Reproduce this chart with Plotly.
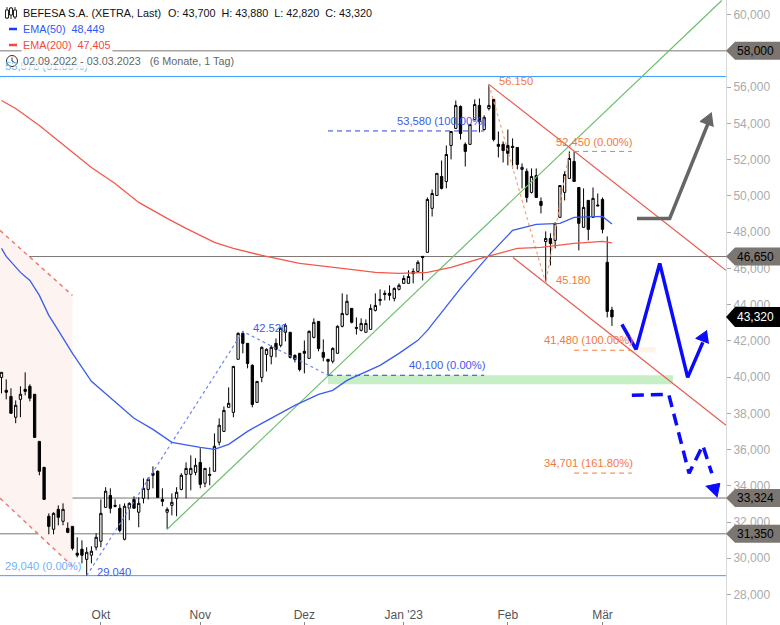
import plotly.graph_objects as go

# daily candles, 02.09.2022 - 03.03.2023 (index 0 = first trading day)
open_ = [39980, 39270, 38930, 37780, 38770, 39320, 39490, 39050, 36450, 35020,
         32320, 31600, 32700, 32040, 31650, 31760, 30280, 30500, 29940, 30170,
         30610, 30940, 32810, 33470, 32920, 32760, 31050, 32760, 33250, 32540,
         33310, 33800, 34690, 34800, 33250, 32540, 32920, 33310, 33800, 34630,
         34630, 34740, 35290, 34140, 34630, 34800, 36400, 37000, 38330, 38050,
         40980, 42410, 41860, 40650, 38600, 39980, 41250, 41140, 41860, 41750,
         42470, 42470, 41200, 41310, 41420, 41030, 42190, 43070, 41360, 40980,
         40870, 41310, 42800, 43460, 43790, 42740, 42580, 42470, 42630, 43680,
         44290, 44620, 44620, 44340, 44840, 45170, 45170, 45720, 45830, 46660,
         46880, 49310, 50020, 51070, 50790, 52780, 53720, 54930, 52840, 52840,
         54210, 54990, 53660, 54820, 55320, 52840, 52840, 52780, 52730, 52670,
         51460, 51350, 50190, 51120, 49690, 47480, 47650, 47540, 48810, 50190,
         50960, 51900, 50460, 48260, 49750, 48810, 49490, 49800, 46330, 43700]
high = [40260, 39870, 39380, 38710, 39490, 40260, 39600, 39050, 36450, 35020,
        32480, 32540, 32920, 33030, 31980, 31760, 31160, 30990, 30610, 30660,
        31380, 33250, 33920, 33860, 33250, 32980, 33030, 33090, 33420, 33360,
        34410, 34470, 35070, 34850, 33860, 32810, 33580, 33920, 34690, 35290,
        35680, 35520, 36070, 34960, 35020, 36890, 37720, 38380, 39430, 40590,
        42470, 42520, 41860, 40700, 39760, 41690, 41580, 41750, 42130, 42740,
        42960, 42470, 41250, 41310, 42020, 42580, 43240, 43070, 42080, 40980,
        41640, 42850, 44620, 44560, 43790, 43290, 43240, 43180, 44010, 44620,
        44840, 44780, 45060, 44950, 45170, 45610, 45890, 46000, 46440, 46660,
        49910, 50350, 51240, 51950, 52780, 53550, 55260, 54990, 52950, 53940,
        55320, 55370, 54440, 56150, 55320, 53550, 53000, 53660, 53170, 52670,
        51790, 51510, 51510, 51510, 49910, 48040, 47930, 48530, 50570, 51350,
        52450, 52450, 50460, 50410, 49750, 50460, 50130, 49910, 47760, 43880]
low = [39100, 38770, 38000, 37450, 37780, 38990, 38660, 36670, 34580, 33250,
       31320, 31320, 31820, 31820, 31380, 30440, 30050, 29720, 29040, 29720,
       30440, 30610, 32810, 32480, 32810, 31430, 30990, 32100, 32760, 31710,
       33030, 33250, 33860, 33360, 32870, 31600, 32370, 32320, 33750, 33310,
       33750, 34580, 33860, 33920, 34030, 34800, 36230, 37000, 38330, 37780,
       40980, 41310, 40480, 38330, 38600, 39710, 40310, 40700, 41090, 41640,
       41970, 41030, 40810, 40310, 40200, 41030, 42130, 41420, 40870, 40100,
       40750, 41310, 42740, 43400, 42960, 42350, 42520, 42470, 42630, 43620,
       43950, 44230, 44230, 44180, 44780, 45170, 45170, 45170, 45780, 45330,
       46880, 48860, 50020, 50350, 50410, 52010, 53720, 53110, 51620, 52840,
       54160, 53500, 53610, 54710, 53000, 52120, 51840, 51680, 51510, 51460,
       50410, 49640, 50130, 49910, 49030, 45180, 46160, 47100, 48810, 49750,
       50960, 50790, 46990, 48260, 47540, 48810, 49420, 47930, 43290, 42820]
close = [40260, 39160, 38000, 38440, 39050, 39210, 38830, 36670, 34800, 33250,
         31760, 32480, 32260, 32700, 31430, 30550, 30170, 30170, 30330, 30390,
         31160, 32480, 33700, 32760, 32870, 31540, 32870, 33030, 32760, 33030,
         33860, 34360, 34580, 33360, 33140, 32700, 33090, 33640, 34580, 34960,
         34960, 35130, 34080, 34960, 34580, 36180, 37340, 38160, 38550, 40590,
         42410, 41860, 40750, 38490, 39760, 41640, 41530, 41640, 41530, 42690,
         42850, 41090, 40980, 40420, 41310, 42520, 43020, 41580, 41090, 40870,
         41580, 42800, 43510, 44180, 43020, 42690, 42960, 42960, 43790, 43950,
         44230, 44560, 44510, 44890, 45060, 45440, 45550, 45830, 46330, 46600,
         49800, 50130, 51240, 50410, 52280, 53550, 54990, 53440, 52450, 53940,
         55040, 54100, 54330, 54990, 53110, 52730, 52500, 52340, 52670, 51730,
         51570, 49910, 51070, 49910, 49470, 47650, 47370, 48480, 50570, 51180,
         52060, 50790, 48480, 49360, 48150, 49860, 49450, 48150, 43620, 43320]

ema50_idx = [0, 1, 4, 6, 8, 10, 12, 15, 19, 24, 28, 32, 36, 42, 45, 48, 52, 55, 60, 62,
             67, 70, 73, 80, 84, 88, 90, 97, 103, 108, 113, 118, 121, 127, 129]
ema50 = [47098, 46657, 45775, 45333, 44506, 43403, 42575, 41306, 39762, 38604,
         37722, 37114, 36398, 36122, 36011, 36287, 37004, 37446, 38162, 38438,
         39045, 39266, 39817, 40645, 41306, 42024, 42575, 44892, 46712, 48091,
         48422, 48477, 48808, 48863, 48449]
ema200_idx = [0, 3, 8, 12, 14, 19, 24, 29, 35, 39, 45, 49, 55, 63, 72, 79, 84, 90, 95,
              102, 109, 114, 121, 127, 129]
ema200 = [55262, 54820, 53883, 53056, 52614, 51566, 50684, 49636, 48753, 48202,
          47429, 47098, 46712, 46271, 45995, 45775, 45720, 45775, 46050, 46602,
          47098, 47153, 47374, 47484, 47405]

month_idx = [21, 42, 64, 85, 107, 127]
month_labels = ["Okt", "Nov", "Dez", "Jan '23", "Feb", "Mär"]
price_ticks = list(range(28000, 60001, 2000))

gray_levels = [58000, 46650, 33324, 31350]
blue_levels = [56586, 29040]

# drawn lines (index, price)
green_x, green_y = [35, 152.2], [31600, 60778]
red_top_x, red_top_y = [103, 153.1], [56150, 45885]
red_low_x, red_low_y = [108.1, 153.1], [46602, 37335]
channel_top_x, channel_top_y = [-0.3, 15], [48091, 44506]
channel_low_x, channel_low_y = [-0.3, 15], [33308, 29560]
fib_blue_x, fib_blue_y = [18, 51, 69], [29040, 42520, 40100]
fib_orange_x, fib_orange_y = [103, 115, 120], [56150, 45180, 52450]

arrow_blue_x = [131.1, 134.1, 139.1, 145.0, 148.2]
arrow_blue_y = [42906, 41527, 46271, 39982, 41913]
head_blue_x, head_blue_y = [149.1, 146.7, 149.5], [42575, 42134, 41858]
arrow_dash_x = [133.2, 141.0, 145.3, 148.2, 150.1]
arrow_dash_y = [38990, 39045, 34688, 36232, 34688]
head_dash_x, head_dash_y = [148.8, 151.8, 151.2], [33970, 34136, 33364]
arrow_gray_x = [134.3, 141.2, 149.3]
arrow_gray_y = [48753, 48753, 53993]
head_gray_x, head_gray_y = [150.1, 147.6, 150.5], [54600, 54104, 53828]

W, H, PLOT_W = 780, 625, 726
BLUE_TXT = "#3a5cf0"
ORANGE_TXT = "#f5793a"
RED = "#e85a50"


def line(x, y, color, width=1, dash="solid"):
    return go.Scatter(x=x, y=y, mode="lines", line=dict(color=color, width=width, dash=dash),
                      hoverinfo="skip", showlegend=False)


def head(x, y, color):
    return go.Scatter(x=x, y=y, mode="lines", fill="toself", fillcolor=color,
                      line=dict(color=color, width=1), hoverinfo="skip", showlegend=False)


fig = go.Figure()

# scatter traces sit above candlesticks, so the filled zones have to be shapes
poly_x = channel_top_x + channel_low_x[::-1]
poly_y = channel_top_y + channel_low_y[::-1]
poly = "M " + " L ".join(f"{a},{b}" for a, b in zip(poly_x, poly_y)) + " Z"
fig.add_shape(type="path", path=poly, fillcolor="#fdf3f1", line=dict(width=0), layer="below")
fig.add_shape(type="rect", x0=69, x1=141.9, y0=39600, y1=40100, fillcolor="#c6efc6", line=dict(width=0), layer="below")
fig.add_shape(type="rect", x0=133, x1=138.2, y0=41350, y1=41650, fillcolor="#fdf3e6", line=dict(width=0), layer="below")

for lvl in gray_levels:
    fig.add_hline(y=lvl, line=dict(color="#7b7672", width=1), layer="below")
for lvl in blue_levels:
    fig.add_hline(y=lvl, line=dict(color="#3f9fff", width=1), layer="below")

fig.add_trace(go.Candlestick(
    x=list(range(len(close))), open=open_, high=high, low=low, close=close,
    increasing=dict(line=dict(color="#000000", width=1), fillcolor="#ffffff"),
    decreasing=dict(line=dict(color="#000000", width=1), fillcolor="#000000"),
    whiskerwidth=0, hoverinfo="skip", showlegend=False))

fig.add_trace(line(channel_top_x, channel_top_y, "rgba(232,90,80,0.8)", 1.5, "4px,4px"))
fig.add_trace(line(channel_low_x, channel_low_y, "rgba(232,90,80,0.8)", 1.5, "4px,4px"))
fig.add_trace(line(green_x, green_y, "#6cbf6c", 1.2))
fig.add_trace(line(red_top_x, red_top_y, RED, 1.2))
fig.add_trace(line(red_low_x, red_low_y, RED, 1.2))
fig.add_trace(line(fib_blue_x, fib_blue_y, "#6a84ff", 1.2, "dot"))
fig.add_trace(line(fib_orange_x, fib_orange_y, "#ffa070", 1.2, "dot"))

# fib level dashes
fig.add_trace(line([69, 102], [53580, 53580], "#2244dd", 1, "5px,4px"))
fig.add_trace(line([69, 102], [40100, 40100], "#2244dd", 1, "5px,4px"))
fig.add_trace(line([121, 133.2], [52450, 52450], "#f5793a", 1, "5px,4px"))
fig.add_trace(line([121, 133], [41480, 41480], "#f5793a", 1, "5px,4px"))
fig.add_trace(line([121, 133.2], [34701, 34701], "#f5793a", 1, "5px,4px"))

fig.add_trace(line(ema50_idx, ema50, "#3a5cf0", 1.3))
fig.add_trace(line(ema200_idx, ema200, "#f4584a", 1.3))

fig.add_trace(line(arrow_blue_x, arrow_blue_y, "#0a0aff", 3.5))
fig.add_trace(head(head_blue_x, head_blue_y, "#0a0aff"))
fig.add_trace(line(arrow_dash_x, arrow_dash_y, "#0a0aff", 3.5, "12px,7px"))
fig.add_trace(head(head_dash_x, head_dash_y, "#0a0aff"))
fig.add_trace(line(arrow_gray_x, arrow_gray_y, "#666666", 3.5))
fig.add_trace(head(head_gray_x, head_gray_y, "#666666"))


def label(text, x, y, color):
    fig.add_annotation(x=x, y=y, text=text, showarrow=False, xanchor="left", yanchor="middle", xshift=-1,
                       font=dict(color=color, size=11.2), borderpad=0)


label("56.150", 105.1, 56310, ORANGE_TXT)
label("45.180", 117.2, 45333, ORANGE_TXT)
label("42.520", 53.1, 42685, BLUE_TXT)
label("29.040", 20.2, 29226, BLUE_TXT)
label("29,040 (0.00%)", 0.7, 29557, "#6cb4ff")
label("53,578 (61.80%)", 0.7, 57137, "#6cb4ff")
label("53,580 (100.00%)", 83.6, 54104, BLUE_TXT)
label("40,100 (0.00%)", 86.1, 40645, BLUE_TXT)
label("52,450 (0.00%)", 117.2, 52996, ORANGE_TXT)
label("41,480 (100.00%)", 114.6, 42024, ORANGE_TXT)
label("34,701 (161.80%)", 114.6, 35239, ORANGE_TXT)


def head_text(text, xpx, ypx, color, bg=None):
    fig.add_annotation(xref="paper", yref="paper", x=(xpx - 2) / PLOT_W, y=1 - ypx / H, text=text, showarrow=False,
                       xanchor="left", yanchor="middle", font=dict(color=color, size=10.8),
                       bgcolor=bg, borderpad=1)


def px_shape(path, xpx, ypx, **kw):
    fig.add_shape(type="path", path=path, xref="paper", yref="paper", xsizemode="pixel", ysizemode="pixel",
                  xanchor=xpx / PLOT_W, yanchor=1 - ypx / H, **kw)


head_text("BEFESA S.A. (XETRA, Last)", 23, 13, "#111111")
head_text("O: 43,700\u00a0\u00a0H: 43,880\u00a0\u00a0L: 42,820\u00a0\u00a0C: 43,320", 168, 13, "#111111")
head_text("EMA(50)\u00a0\u00a048,449", 23, 29, "#2f55ff", "#ffffff")
head_text("EMA(200)\u00a0\u00a047,405", 23, 45, "#f54a3a", "#ffffff")
head_text("02.09.2022 - 03.03.2023\u00a0\u00a0\u00a0(6 Monate, 1 Tag)", 23, 61, "#666666", "rgba(255,255,255,0.78)")

# candle icon in the title row and clock in the date row
for ix, top, bot in [(7, -5, 3), (11, -2, 5), (15, -4, 3)]:
    px_shape("M 0,-6 L 0,6", ix, 13, line=dict(color="#222222", width=1))
    px_shape(f"M -1.5,{top} L 1.5,{top} L 1.5,{bot} L -1.5,{bot} Z", ix, 13,
             line=dict(color="#222222", width=1), fillcolor="#ffffff")
px_shape("M -4,0 L 4,0", 13, 29, line=dict(color="#1a3cff", width=2.5))
px_shape("M -4,0 L 4,0", 13, 45, line=dict(color="#f54a3a", width=2.5))
fig.add_shape(type="circle", xref="paper", yref="paper", xsizemode="pixel", ysizemode="pixel",
              xanchor=12 / PLOT_W, yanchor=1 - 61 / H, x0=-5.5, x1=5.5, y0=-5.5, y1=5.5,
              line=dict(color="#333333", width=1))
px_shape("M 0,3.5 L 0,0 L 3,-2", 12, 61, line=dict(color="#333333", width=1))

# price badges on the right axis
for lvl, txt, bg, fg, half in [(58000, "58,000", "#7b7672", "#000000", 9),
                               (46650, "46,650", "#7b7672", "#000000", 9),
                               (33324, "33,324", "#7b7672", "#000000", 9),
                               (31350, "31,350", "#7b7672", "#000000", 9),
                               (43320, "43,320", "#000000", "#ffffff", 10)]:
    fig.add_shape(type="path", xref="paper", yref="y", xsizemode="pixel", ysizemode="pixel",
                  xanchor=1, yanchor=lvl, path=f"M 0,0 L 9,{half} L 54,{half} L 54,-{half} L 9,-{half} Z",
                  fillcolor=bg, line=dict(width=0))
    fig.add_annotation(xref="paper", yref="y", x=1, y=lvl, text=txt, showarrow=False, xanchor="left",
                       yanchor="middle", xshift=10, font=dict(color=fg, size=12), borderpad=0)

fig.update_layout(
    width=W, height=H, margin=dict(l=0, r=W - PLOT_W, t=0, b=0),
    paper_bgcolor="#ffffff", plot_bgcolor="#ffffff",
    font=dict(family="Liberation Sans, Arial, sans-serif"),
    showlegend=False, hovermode=False,
    xaxis=dict(range=[-0.317, 153.1], rangeslider=dict(visible=False), showgrid=False, zeroline=False,
               tickmode="array", tickvals=month_idx, ticktext=month_labels,
               ticks="inside", ticklen=3, tickcolor="#888888", ticklabelposition="inside",
               tickfont=dict(size=12, color="#555555"), showline=False),
    yaxis=dict(side="right", range=[26318, 60806], showgrid=False, zeroline=False,
               tickmode="array", tickvals=price_ticks, ticktext=[f"{v:,}" for v in price_ticks],
               ticks="outside", ticklen=4, tickcolor="#aaaaaa", tickfont=dict(size=12, color="#aaaaaa"),
               showline=True, linecolor="#d8d8d8", linewidth=1),
)

fig.write_html("out.html", config={"displayModeBar": False},
               post_script="document.body.style.margin='0';document.body.style.overflow='hidden';")
